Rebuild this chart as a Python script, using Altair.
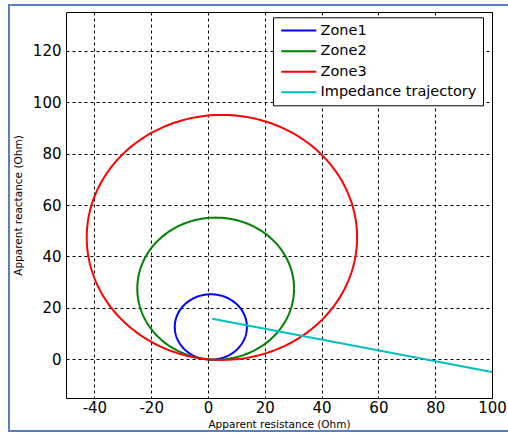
import altair as alt
import numpy as np
import pandas as pd

# Mho characteristic circles
zone_names = ["Zone1", "Zone2", "Zone3"]
zone_center_r = [1.0, 2.7, 4.9]
zone_center_x = [12.6, 27.5, 47.4]
zone_radius = [12.7, 27.6, 47.6]

# Impedance trajectory (end points)
traj_name = "Impedance trajectory"
traj_r = [1.5, 100.0]
traj_x = [15.8, -4.9]

series_names = zone_names + [traj_name]
series_colors = ["#0000ff", "#008000", "#ff0000", "#00bfbf"]

x_ticks = [-40, -20, 0, 20, 40, 60, 80, 100]
y_ticks = [0, 20, 40, 60, 80, 100, 120]

rows = []
ang = np.linspace(0, 2 * np.pi, 241)
for name, cr, cx, rad in zip(zone_names, zone_center_r, zone_center_x, zone_radius):
    for i, a in enumerate(ang):
        rows.append({"series": name, "i": i,
                     "R": cr + rad * np.cos(a), "X": cx + rad * np.sin(a)})
for i, (r, x) in enumerate(zip(traj_r, traj_x)):
    rows.append({"series": traj_name, "i": i, "R": r, "X": x})
df = pd.DataFrame(rows)

FONT = "DejaVu Sans"

lines = alt.Chart(df).mark_line(strokeWidth=2, clip=True).encode(
    x=alt.X("R:Q", scale=alt.Scale(domain=[-50, 100], nice=False, zero=False),
            axis=alt.Axis(values=x_ticks, title="Apparent resistance (Ohm)",
                          labelExpr="'' + datum.value", labelFlush=False,
                          labelPadding=2, titlePadding=4)),
    y=alt.Y("X:Q", scale=alt.Scale(domain=[-15, 135], nice=False, zero=False),
            axis=alt.Axis(values=y_ticks, title="Apparent reactance (Ohm)",
                          labelExpr="'' + datum.value", labelFlush=False,
                          labelPadding=5, titlePadding=9)),
    color=alt.Color("series:N",
                    scale=alt.Scale(domain=series_names, range=series_colors),
                    sort=series_names,
                    legend=alt.Legend(title=None, orient="none",
                                      legendX=207, legendY=5.3,
                                      symbolType="M-1,0H6", symbolSize=100,
                                      symbolStrokeWidth=2, labelOffset=27,
                                      labelFontSize=14.5, labelFont=FONT,
                                      labelColor="black", labelLimit=400,
                                      rowPadding=5.6, padding=6,
                                      fillColor="white", strokeColor="black",
                                      cornerRadius=0)),
    order=alt.Order("i:Q"),
    detail="series:N",
)

frame = alt.Chart(pd.DataFrame({"a": [0]})).mark_rect(
    fill=None, fillOpacity=0, stroke="#5a7fc0", strokeWidth=2
).encode(x=alt.value(-57), x2=alt.value(446), y=alt.value(-7), y2=alt.value(419))

chart = alt.layer(lines, frame).properties(
    width=426, height=386,
    autosize=alt.AutoSizeParams(type="none"),
    padding={"left": 66, "top": 12, "right": 16, "bottom": 36},
    background="white",
).configure_view(
    stroke="black", strokeWidth=1
).configure_axis(
    domain=False, ticks=False,
    grid=True, gridColor="black", gridDash=[3, 3], gridWidth=1, gridOpacity=1,
    labelFont=FONT, labelFontSize=15, labelColor="black",
    titleFont=FONT, titleFontSize=10.5, titleFontWeight="normal", titleColor="black",
)

chart.save("out.html", embed_options={"renderer": "svg", "actions": False})
